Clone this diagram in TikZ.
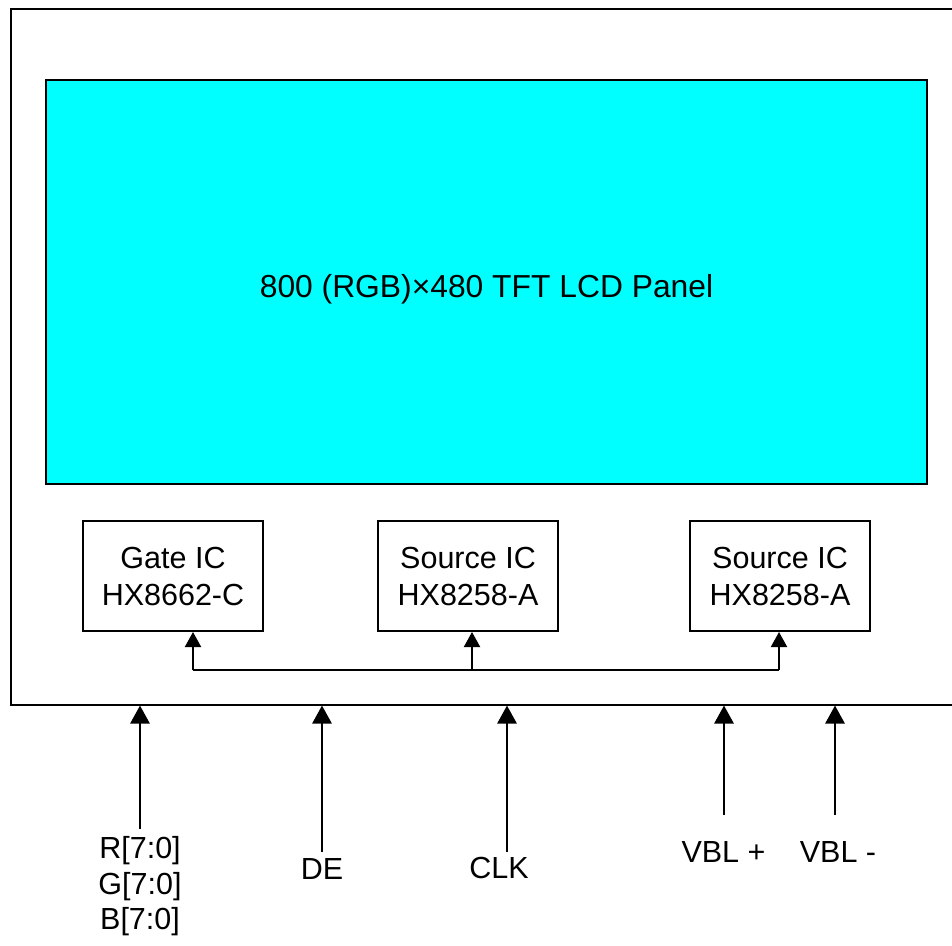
\documentclass[tikz,border=0pt]{standalone}
\usepackage{fontspec}
\setmainfont{Liberation Sans}
\usetikzlibrary{arrows.meta}
\definecolor{panelcyan}{RGB}{0,255,255}

\begin{document}
\begin{tikzpicture}[x=1pt,y=-1pt,>={Triangle[width=19pt,length=18pt]},
  line width=2pt,font=\fontsize{30.5}{37}\selectfont,
  ic node/.style={draw,minimum width=180pt,minimum height=110pt,align=center,inner sep=0pt},
  sig node/.style={inner sep=0pt,anchor=base}]

  \useasboundingbox (0,0) rectangle (952,945);

  \node[draw,minimum width=1000pt,minimum height=696pt,anchor=north west] (board) at (9.5,7.5) {};
  \node[draw,fill=panelcyan,minimum width=881pt,minimum height=404pt] (panel) at (486.5,282) {};
  \node[anchor=base,font=\fontsize{31.8}{37}\selectfont] (paneltext) at ([yshift=-15pt]panel.center) {800 (RGB)×480 TFT LCD Panel};

  \node[ic node] (gate) at (173,576) {Gate IC\\HX8662-C};
  \node[ic node] (src1) at (468,576) {Source IC\\HX8258-A};
  \node[ic node] (src2) at (780,576) {Source IC\\HX8258-A};

  \coordinate (busL) at (193,670);
  \coordinate (busM) at (472,670);
  \coordinate (busR) at (779,670);
  \draw (busL) -- (busR);
  \path[->,>={Triangle[width=16pt,length=15pt]}]
    (busL) edge (busL |- gate.south)
    (busM) edge (busM |- src1.south)
    (busR) edge (busR |- src2.south);

  \node[align=center,inner sep=0pt,font=\fontsize{30.5}{35.5}\selectfont] (rgb) at (140,886.5) {R[7:0]\\G[7:0]\\B[7:0]};
  \node[sig node] (de) at (322,879) {DE};
  \node[sig node] (clk) at (499,878) {CLK};
  \node[sig node] (vblp) at (723.5,862) {VBL +};
  \node[sig node] (vblm) at (838,862) {VBL -};

  \coordinate (rgbin) at (140,829);
  \coordinate (dein) at (322,852);
  \coordinate (clkin) at (507,852);
  \coordinate (vblpin) at (724,815);
  \coordinate (vblmin) at (835,815);

  \path[->,line width=2.8pt]
    (rgbin) edge (rgbin |- board.south)
    (dein) edge (dein |- board.south)
    (clkin) edge (clkin |- board.south)
    (vblpin) edge (vblpin |- board.south)
    (vblmin) edge (vblmin |- board.south);

\end{tikzpicture}
\end{document}
